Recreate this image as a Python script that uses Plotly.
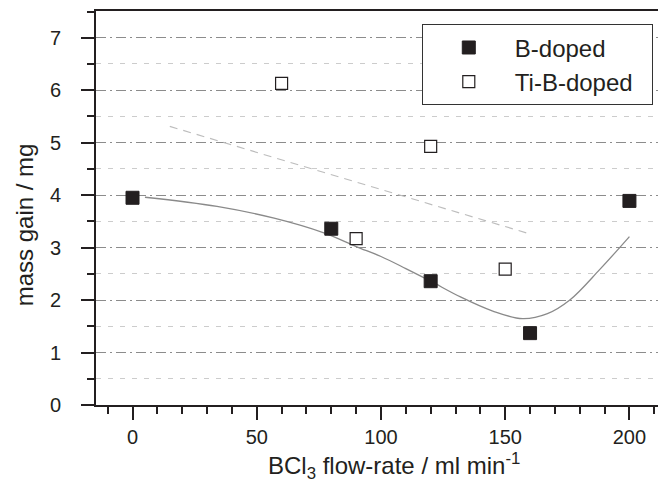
import plotly.graph_objects as go

# Data
b_x = [0, 80, 120, 160, 200]
b_y = [3.95, 3.36, 2.36, 1.37, 3.89]
ti_x = [60, 90, 120, 150]
ti_y = [6.13, 3.17, 4.93, 2.59]
# smooth fit line (B-doped)
fit_b_x = [5, 34, 57, 77, 90, 100, 110, 120, 132, 145, 157, 167, 176, 188, 200]
fit_b_y = [3.96, 3.785, 3.56, 3.28, 3.02, 2.83, 2.60, 2.36, 2.06, 1.79, 1.645, 1.74, 2.0, 2.58, 3.21]
# linear fit line (Ti-B-doped)
fit_ti_x = [15, 160]
fit_ti_y = [5.31, 3.26]

FONT = "Liberation Sans, Arial, sans-serif"
INK = "#231f20"

fig = go.Figure()
fig.add_trace(go.Scatter(x=fit_b_x, y=fit_b_y, mode="lines", line=dict(color="#8a8a8a", width=1.3, shape="spline", smoothing=1),
                         showlegend=False, hoverinfo="skip"))
fig.add_trace(go.Scatter(x=fit_ti_x, y=fit_ti_y, mode="lines", line=dict(color="#bdbdbd", width=1.2, dash="8px,6px"),
                         showlegend=False, hoverinfo="skip"))
fig.add_trace(go.Scatter(x=b_x, y=b_y, mode="markers", name="B-doped",
                         marker=dict(symbol="square", size=13, color=INK, line=dict(color=INK, width=1))))
fig.add_trace(go.Scatter(x=ti_x, y=ti_y, mode="markers", name="Ti-B-doped\u00a0\u00a0",
                         marker=dict(symbol="square", size=12, color="white", line=dict(color=INK, width=1.2))))

fig.update_layout(
    width=658, height=489,
    margin=dict(l=96, r=0, t=11, b=84),
    paper_bgcolor="white", plot_bgcolor="white",
    font=dict(family=FONT, color=INK, size=20),
    legend=dict(x=0.5797, y=0.966, xanchor="left", yanchor="top",
                bordercolor="#333333", borderwidth=1, bgcolor="white",
                font=dict(size=24, family=FONT, color=INK), itemwidth=82,
                tracegroupgap=0),
    xaxis=dict(range=[-14.7, 211.5], showline=True, linewidth=2, linecolor=INK, mirror=True,
               ticks="outside", ticklen=13, tickwidth=2, tickcolor=INK,
               tick0=0, dtick=50, showgrid=False, zeroline=False,
               minor=dict(ticks="outside", ticklen=7, tickwidth=2, tickcolor=INK, dtick=10, tick0=0, showgrid=False),
               tickfont=dict(size=20, family=FONT, color=INK), ticklabelstandoff=0),
    yaxis=dict(range=[0, 7.51], showline=True, linewidth=2, linecolor=INK,
               ticks="outside", ticklen=13, tickwidth=2, tickcolor=INK,
               tick0=0, dtick=1, zeroline=False,
               showgrid=True, gridcolor="#8c8c8c", gridwidth=1, griddash="10px,4px,2px,4px",
               minor=dict(ticks="outside", ticklen=7, tickwidth=2, tickcolor=INK, dtick=0.5, tick0=0,
                          showgrid=True, gridcolor="#cccccc", gridwidth=1, griddash="5px,7px"),
               tickfont=dict(size=20, family=FONT, color=INK), ticklabelstandoff=16),
)

fig.add_annotation(text="BCl<sub>3</sub> flow-rate / ml min<sup>-1</sup>", xref="paper", yref="paper",
                   x=0.5305, y=-0.155, xanchor="center", yanchor="middle", showarrow=False,
                   font=dict(size=24, family=FONT, color=INK))
fig.add_annotation(text="mass gain / mg", xref="paper", yref="paper",
                   x=-0.1257, y=0.457, xanchor="center", yanchor="middle", textangle=-90, showarrow=False,
                   font=dict(size=24, family=FONT, color=INK))

fig.write_html("out.html")
